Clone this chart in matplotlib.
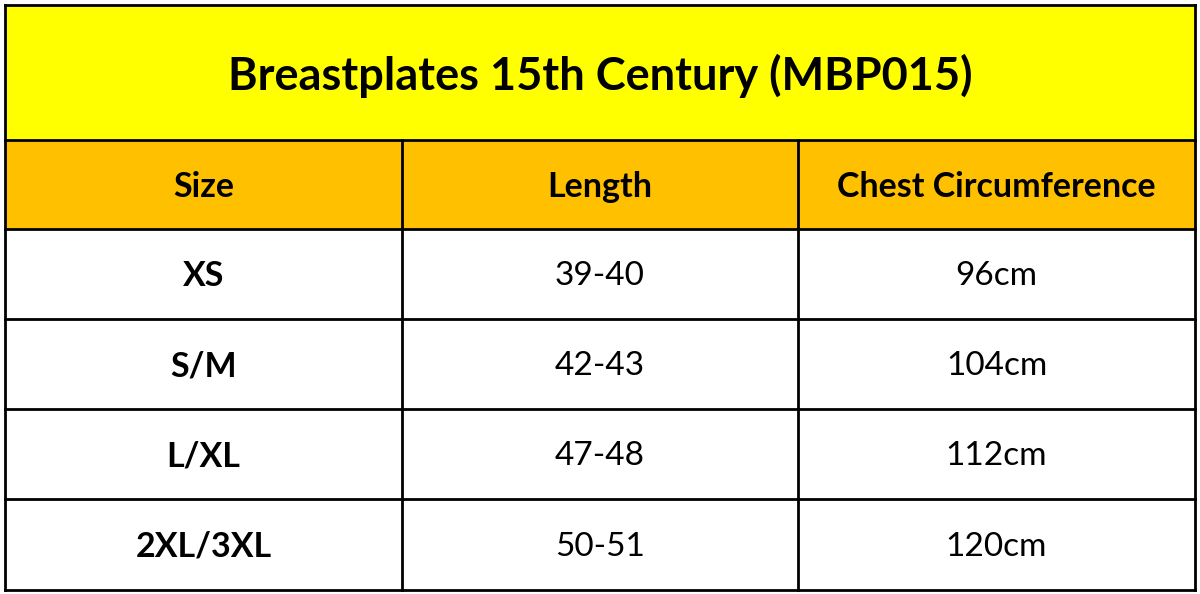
import matplotlib
matplotlib.use("Agg")
import matplotlib.pyplot as plt
from matplotlib.patches import Rectangle

title = "Breastplates 15th Century (MBP015)"
headers = ["Size", "Length", "Chest Circumference"]
sizes = ["XS", "S/M", "L/XL", "2XL/3XL"]
lengths = ["39-40", "42-43", "47-48", "50-51"]
chest = ["96cm", "104cm", "112cm", "120cm"]

fig = plt.figure(figsize=(12, 5.94), dpi=100)
ax = fig.add_axes([0, 0, 1, 1])
ax.set_xlim(0, 1200); ax.set_ylim(594, 0); ax.axis("off")

xs = [5, 402, 798, 1195]
rows = [5, 140, 229, 319, 409, 499, 590]
fam = ["Lato", "DejaVu Sans"]

ax.add_patch(Rectangle((5, 5), 1190, 135, facecolor="#FFFF00", edgecolor="none"))
ax.add_patch(Rectangle((5, 140), 1190, 89, facecolor="#FFC000", edgecolor="none"))
lw = 2
for y in rows:
    ax.plot([5, 1195], [y, y], color="black", lw=lw)
for x in [5, 1195]:
    ax.plot([x, x], [5, 590], color="black", lw=lw)
for x in xs[1:3]:
    ax.plot([x, x], [140, 590], color="black", lw=lw)

ax.text(600, 76, title, ha="center", va="center", fontsize=32.5, fontweight="bold", family=fam)
for i, h in enumerate(headers):
    ax.text((xs[i] + xs[i+1]) / 2, 187, h, ha="center", va="center", fontsize=24.5, fontweight="bold", family=fam)
for r in range(len(sizes)):
    yc = (rows[r+2] + rows[r+3]) / 2 + 2
    ax.text((xs[0]+xs[1])/2, yc, sizes[r], ha="center", va="center", fontsize=24.5, fontweight="bold", family=fam)
    ax.text((xs[1]+xs[2])/2, yc, lengths[r], ha="center", va="center", fontsize=24, family=fam)
    ax.text((xs[2]+xs[3])/2, yc, chest[r], ha="center", va="center", fontsize=24, family=fam)

fig.savefig("out.png", dpi=100)
